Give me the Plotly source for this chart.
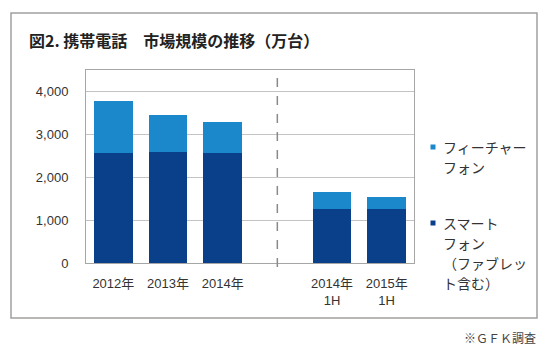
import plotly.graph_objects as go

# ---- data ----
categories = ["2012年", "2013年", "2014年", " ", "2014年<br>1H", "2015年<br>1H"]
smartphone = [2560, 2590, 2570, None, 1250, 1265]
total = [3770, 3440, 3290, None, 1650, 1535]
feature_phone = [None if t is None else t - s for t, s in zip(total, smartphone)]
y_ticks = [0, 1000, 2000, 3000, 4000]
y_tick_text = ["0", "1,000", "2,000", "3,000", "4,000"]

title_text = "図2. 携帯電話　市場規模の推移（万台）"
legend_feature = ["フィーチャー", "フォン"]
legend_smart = ["スマート", "フォン", "（ファブレッ", "ト含む）"]
source_text = "※ＧＦＫ調査"

# ---- style ----
W, H = 552, 352
L, R, T, B = 86, 138, 70, 89
PW, PH = W - L - R, H - T - B
C_SMART = "#0a3f89"
C_FEAT = "#1a88cb"
JP = "Noto Sans CJK JP"
TXT = "#333333"


def px(x):
    return (x - L) / PW


def py(y):
    return (H - B - y) / PH


fig = go.Figure()
fig.add_trace(go.Bar(x=categories, y=smartphone, name="スマートフォン（ファブレット含む）",
                     marker=dict(color=C_SMART, line=dict(width=0))))
fig.add_trace(go.Bar(x=categories, y=feature_phone, name="フィーチャーフォン",
                     marker=dict(color=C_FEAT, line=dict(width=0))))

shapes = []
# outer frame
shapes.append(dict(type="rect", xref="paper", yref="paper",
                   x0=px(11), x1=px(537), y0=py(318), y1=py(13),
                   line=dict(color="#a39e9e", width=1.5), layer="below"))
# dashed divider
shapes.append(dict(type="line", xref="x", yref="paper", x0=3, x1=3,
                   y0=py(267), y1=py(70), line=dict(color="#8a8a8a", width=1.5, dash="dash")))
# legend markers
for yy, col in [(147, C_FEAT), (223, C_SMART)]:
    shapes.append(dict(type="rect", xref="paper", yref="paper",
                       x0=px(430.5), x1=px(435.5), y0=py(yy + 2.5), y1=py(yy - 2.5),
                       fillcolor=col, line=dict(width=0)))

annotations = [
    dict(text=title_text, x=px(27), y=py(40), xref="paper", yref="paper",
         xanchor="left", yanchor="middle", showarrow=False,
         font=dict(family=JP, size=16, color="#222222", weight="bold")),
    dict(text=source_text, x=px(538), y=py(337), xref="paper", yref="paper",
         xanchor="right", yanchor="middle", showarrow=False,
         font=dict(family=JP, size=12, color="#444444")),
]
for i, line in enumerate(legend_feature):
    annotations.append(dict(text=line, x=px(441), y=py(147 + 20 * i), xref="paper", yref="paper",
                            xanchor="left", yanchor="middle", showarrow=False,
                            font=dict(family=JP, size=14, color=TXT)))
for i, line in enumerate(legend_smart):
    annotations.append(dict(text=line, x=px(441), y=py(223 + 20 * i), xref="paper", yref="paper",
                            xanchor="left", yanchor="middle", showarrow=False,
                            font=dict(family=JP, size=14, color=TXT)))

fig.update_layout(
    width=W, height=H,
    margin=dict(l=L, r=R, t=T, b=B, pad=0),
    barmode="stack", bargap=0.29,
    showlegend=False,
    paper_bgcolor="white", plot_bgcolor="white",
    font=dict(family="Liberation Sans, " + JP, size=13, color=TXT),
    shapes=shapes, annotations=annotations,
    xaxis=dict(type="category", categoryorder="array", categoryarray=categories,
               showgrid=False, showline=True, linecolor="#a6a6a6", linewidth=1, mirror=True,
               ticks="", ticklabelstandoff=8, tickfont=dict(size=13, color=TXT)),
    yaxis=dict(range=[0, 4500], tickvals=y_ticks, ticktext=y_tick_text,
               showgrid=True, gridcolor="#c4c4c4", gridwidth=1,
               showline=True, linecolor="#a6a6a6", linewidth=1, mirror=True,
               zeroline=False, ticks="", ticklabelstandoff=14,
               tickfont=dict(size=13, color=TXT)),
)

fig.write_html("out.html")
